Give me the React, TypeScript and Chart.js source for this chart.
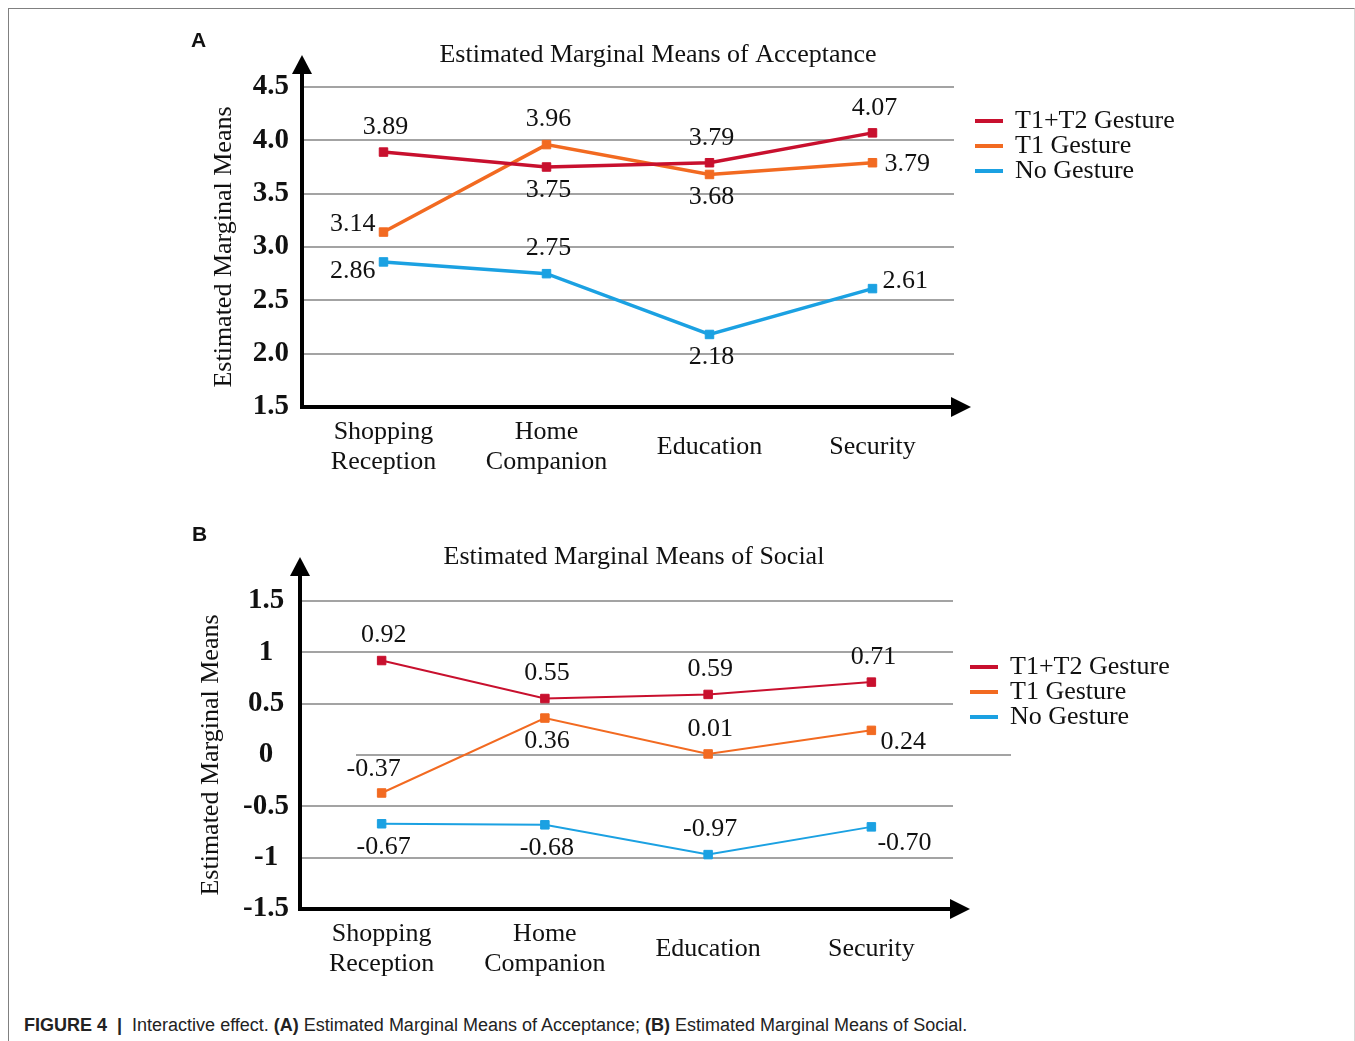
import React, { useEffect, useRef } from 'react';
import { Chart, registerables } from 'chart.js';

Chart.register(...registerables);

// ---------- data ----------
const categories: (string | string[])[] = [['Shopping', 'Reception'], ['Home', 'Companion'], 'Education', 'Security'];
const seriesNames = ['T1+T2 Gesture', 'T1 Gesture', 'No Gesture'];
const seriesColors = ['#C8102E', '#F26A21', '#1BA1E2'];

const acceptanceT1T2 = [3.89, 3.75, 3.79, 4.07];
const acceptanceT1 = [3.14, 3.96, 3.68, 3.79];
const acceptanceNone = [2.86, 2.75, 2.18, 2.61];

const socialT1T2 = [0.92, 0.55, 0.59, 0.71];
const socialT1 = [-0.37, 0.36, 0.01, 0.24];
const socialNone = [-0.67, -0.68, -0.97, -0.70];

const acceptanceTicks = [1.5, 2.0, 2.5, 3.0, 3.5, 4.0, 4.5];
const acceptanceTickLabels = ['1.5', '2.0', '2.5', '3.0', '3.5', '4.0', '4.5'];
const socialTicks = [-1.5, -1, -0.5, 0, 0.5, 1, 1.5];
const socialTickLabels = ['-1.5', '-1', '-0.5', '0', '0.5', '1', '1.5'];

// value label placement (style, per series / per category)
const acceptanceLabelPos = [
  ['top', 'bottom', 'top', 'top'],
  ['left-up', 'top', 'bottom', 'right'],
  ['left-down', 'top', 'bottom', 'right-up'],
];
const socialLabelPos = [
  ['top', 'top', 'top', 'top'],
  ['top-left', 'bottom', 'top', 'right-down'],
  ['bottom', 'bottom', 'top', 'right-low'],
];

// ---------- styles ----------
const SERIF = '"Liberation Serif", "Times New Roman", serif';
const GRID = '#a3a3a3';
const TEXT = '#111';

const decorPlugin = {
  id: 'decor',
  beforeDatasetsDraw(chart: any, _a: any, o: any) {
    const { ctx, chartArea } = chart;
    const { left, right } = chartArea;
    ctx.save();
    if (o.zeroLine) {
      const y = chart.scales.y.getPixelForValue(0);
      ctx.strokeStyle = GRID;
      ctx.lineWidth = 2;
      ctx.beginPath();
      ctx.moveTo(left + o.zeroLine[0], y);
      ctx.lineTo(right + o.zeroLine[1], y);
      ctx.stroke();
    }
    ctx.restore();
  },
  afterDraw(chart: any, _a: any, o: any) {
    const { ctx, chartArea } = chart;
    const { left, right, top, bottom } = chartArea;
    ctx.save();
    // axis arrows
    ctx.fillStyle = '#000';
    ctx.strokeStyle = '#000';
    ctx.lineWidth = 4;
    ctx.beginPath();
    ctx.moveTo(left, top + 2);
    ctx.lineTo(left, o.arrowTip + 14);
    ctx.stroke();
    ctx.beginPath();
    ctx.moveTo(left, o.arrowTip);
    ctx.lineTo(left - 10, o.arrowTip + 19);
    ctx.lineTo(left + 10, o.arrowTip + 19);
    ctx.closePath();
    ctx.fill();
    ctx.beginPath();
    ctx.moveTo(right - 3, bottom - 10);
    ctx.lineTo(right + 17, bottom);
    ctx.lineTo(right - 3, bottom + 10);
    ctx.closePath();
    ctx.fill();

    // title
    ctx.fillStyle = TEXT;
    ctx.font = `26px ${SERIF}`;
    ctx.textAlign = 'center';
    ctx.textBaseline = 'middle';
    ctx.fillText(o.title, o.titleX, o.titleY);

    // legend
    chart.data.datasets.forEach((ds: any, i: number) => {
      const y = o.legendY + i * 25;
      ctx.strokeStyle = ds.borderColor;
      ctx.lineWidth = 4;
      ctx.beginPath();
      ctx.moveTo(o.legendX, y);
      ctx.lineTo(o.legendX + 28, y);
      ctx.stroke();
      ctx.fillStyle = TEXT;
      ctx.textAlign = 'left';
      ctx.fillText(ds.label, o.legendX + 40, y);
    });

    // value labels
    ctx.font = `26px ${SERIF}`;
    chart.data.datasets.forEach((ds: any, i: number) => {
      const meta = chart.getDatasetMeta(i);
      meta.data.forEach((pt: any, j: number) => {
        const txt = Number(ds.data[j]).toFixed(2);
        const pos = o.labelPos[i][j];
        let x = pt.x, y = pt.y;
        ctx.textAlign = 'center';
        if (pos === 'top') { x += 2; y -= 25; }
        else if (pos === 'top-left') { x -= 8; y -= 24; }
        else if (pos === 'bottom') { x += 2; y += 23; }
        else if (pos === 'left-up') { ctx.textAlign = 'right'; x -= 8; y -= 8; }
        else if (pos === 'left-down') { ctx.textAlign = 'right'; x -= 8; y += 9; }
        else if (pos === 'right') { ctx.textAlign = 'left'; x += 12; y += 1; }
        else if (pos === 'right-up') { ctx.textAlign = 'left'; x += 10; y -= 7; }
        else if (pos === 'right-down') { ctx.textAlign = 'left'; x += 9; y += 12; }
        else if (pos === 'right-low') { ctx.textAlign = 'left'; x += 6; y += 16; }
        ctx.fillStyle = TEXT;
        ctx.fillText(txt, x, y);
      });
    });
    ctx.restore();
  },
};

type PanelProps = {
  top: number;
  height: number;
  series: number[][];
  min: number;
  max: number;
  tickValues: number[];
  tickLabels: string[];
  labelPos: string[][];
  lineWidth: number;
  layout: { left: number; right: number; top: number; yWidth: number; xHeight: number; tickPad: number };
  deco: any;
};

function LinePanel(p: PanelProps) {
  const ref = useRef<HTMLCanvasElement>(null);
  useEffect(() => {
    const chart = new Chart(ref.current as HTMLCanvasElement, {
      type: 'line',
      data: {
        labels: categories as any,
        datasets: p.series.map((d, i) => ({
          label: seriesNames[i],
          data: d,
          borderColor: seriesColors[i],
          backgroundColor: seriesColors[i],
          borderWidth: p.lineWidth,
          pointStyle: 'rect',
          pointRadius: 6,
          pointBorderWidth: 1,
          pointBorderColor: seriesColors[i],
          pointBackgroundColor: seriesColors[i],
          tension: 0,
          fill: false,
        })),
      },
      options: {
        responsive: false,
        animation: false,
        events: [],
        layout: { padding: { left: p.layout.left, right: p.layout.right, top: p.layout.top, bottom: 0 } },
        plugins: {
          legend: { display: false },
          tooltip: { enabled: false },
          title: { display: false },
          decor: { ...p.deco, labelPos: p.labelPos },
        } as any,
        scales: {
          x: {
            type: 'category',
            offset: true,
            grid: { display: false, drawTicks: false },
            border: { display: true, color: '#000', width: 4 },
            ticks: {
              font: { family: SERIF, size: 26, lineHeight: 1.15 },
              color: TEXT,
              padding: 25,
              crossAlign: 'center',
              maxRotation: 0,
              autoSkip: false,
            },
            afterFit: (s: any) => { s.height = p.layout.xHeight; },
          },
          y: {
            min: p.min,
            max: p.max,
            afterBuildTicks: (s: any) => { s.ticks = p.tickValues.map((v) => ({ value: v })); },
            ticks: {
              callback: (v: any) => {
                const idx = p.tickValues.findIndex((t) => Math.abs(t - Number(v)) < 1e-9);
                return idx >= 0 ? p.tickLabels[idx] : '';
              },
              font: { family: SERIF, size: 29, weight: 'bold' },
              color: TEXT,
              padding: p.layout.tickPad,
              crossAlign: 'center',
            },
            grid: {
              color: (c: any) => (p.deco.zeroLine && c.tick && c.tick.value === 0 ? 'rgba(0,0,0,0)' : GRID),
              lineWidth: 2,
              drawTicks: false,
            },
            border: { display: true, color: '#000', width: 4 },
            title: {
              display: true,
              text: 'Estimated Marginal Means',
              font: { family: SERIF, size: 26 },
              color: TEXT,
              padding: 0,
            },
            afterFit: (s: any) => { s.width = p.layout.yWidth; },
          },
        } as any,
      },
      plugins: [decorPlugin as any],
    });
    return () => chart.destroy();
  }, []);
  return (
    <canvas
      ref={ref}
      width={1355}
      height={p.height}
      style={{ position: 'absolute', left: 0, top: p.top, display: 'block', width: 1355, height: p.height }}
    />
  );
}

export default function App() {
  return (
    <div style={{ position: 'absolute', left: 0, top: 0, width: 1355, height: 1041, background: '#fff', overflow: 'hidden' }}>
      <div
        style={{
          position: 'absolute', left: 8, top: 8, width: 1345, height: 1040,
          borderLeft: '1.5px solid #808080', borderTop: '1.5px solid #808080', borderRight: '1px solid #d8d8d8',
        }}
      />
      <LinePanel
        top={0}
        height={500}
        series={[acceptanceT1T2, acceptanceT1, acceptanceNone]}
        min={1.5}
        max={4.5}
        tickValues={acceptanceTicks}
        tickLabels={acceptanceTickLabels}
        labelPos={acceptanceLabelPos}
        lineWidth={3.5}
        layout={{ left: 209, right: 401, top: 87, yWidth: 93, xHeight: 93, tickPad: 13 }}
        deco={{ title: 'Estimated Marginal Means of Acceptance', titleX: 658, titleY: 55, legendX: 975, legendY: 121, arrowTip: 55 }}
      />
      <LinePanel
        top={500}
        height={510}
        series={[socialT1T2, socialT1, socialNone]}
        min={-1.5}
        max={1.5}
        tickValues={socialTicks}
        tickLabels={socialTickLabels}
        labelPos={socialLabelPos}
        lineWidth={2}
        layout={{ left: 196, right: 402, top: 101, yWidth: 104, xHeight: 101, tickPad: 11 }}
        deco={{ title: 'Estimated Marginal Means of Social', titleX: 634, titleY: 57, legendX: 970, legendY: 167, arrowTip: 57, zeroLine: [56, 58] }}
      />
      <div style={{ position: 'absolute', left: 191, top: 28, font: 'bold 21px "Liberation Sans", Arial, sans-serif', color: '#111' }}>A</div>
      <div style={{ position: 'absolute', left: 192, top: 522, font: 'bold 21px "Liberation Sans", Arial, sans-serif', color: '#111' }}>B</div>
      <div
        style={{
          position: 'absolute', left: 24, top: 1015, whiteSpace: 'nowrap',
          font: '18px "Liberation Sans", Arial, sans-serif', color: '#222',
        }}
      >
        <b>FIGURE 4</b>{'\u00a0\u00a0'}<b>|</b>{'\u00a0\u00a0'}Interactive effect. <b>(A)</b> Estimated Marginal Means of Acceptance; <b>(B)</b> Estimated Marginal Means of Social.
      </div>
    </div>
  );
}
